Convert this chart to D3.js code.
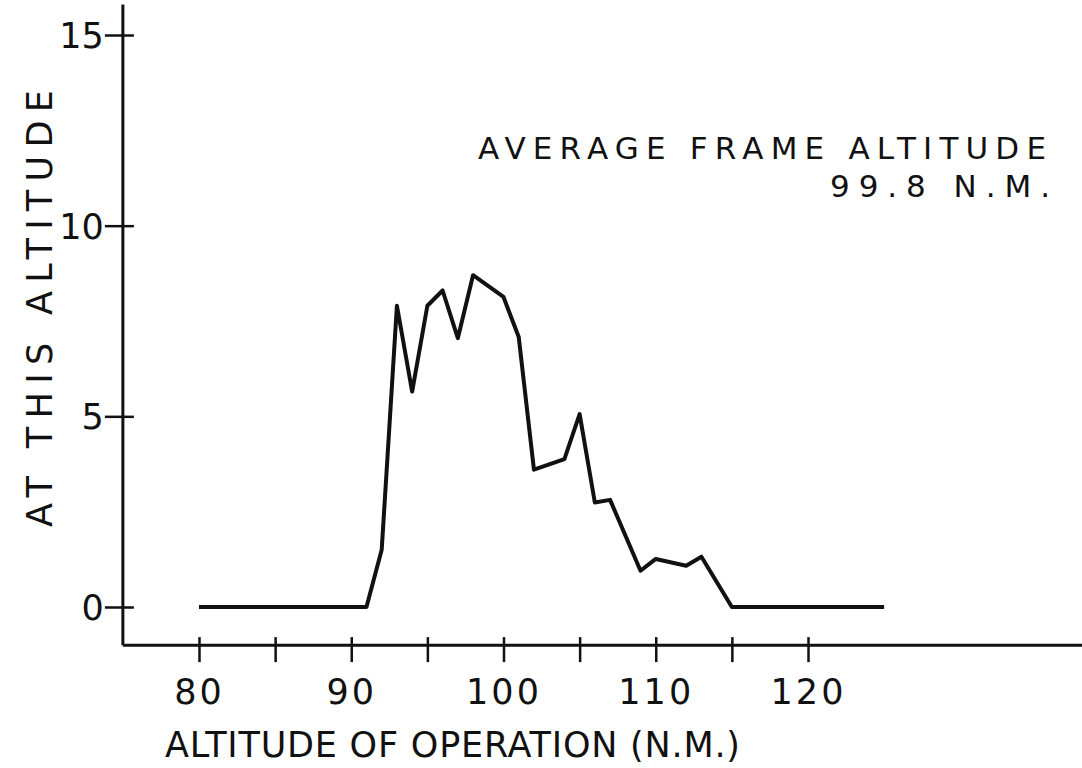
<!DOCTYPE html>
<meta charset="utf-8">
<script src="https://d3js.org/d3.v7.min.js"></script>
<style>
  body { margin: 0; background: #fff; }
  text { font-family: "DejaVu Sans", sans-serif; fill: #111; }
</style>
<div id="chart"></div>
<script>
  var altitudes = [80, 91, 92, 93, 94, 95, 96, 97, 98, 100, 101, 102, 104, 105, 106, 107, 109, 110, 112, 113, 115, 125];
  var values    = [0, 0, 1.5, 7.9, 5.65, 7.9, 8.3, 7.05, 8.7, 8.13, 7.08, 3.6, 3.88, 5.06, 2.74, 2.81, 0.95, 1.26, 1.08, 1.32, 0, 0];
  var xTicks = [80, 85, 90, 95, 100, 105, 110, 115, 120];
  var xTickLabels = [80, 90, 100, 110, 120];
  var yTicks = [0, 5, 10, 15];

  var W = 1082, H = 768;
  var svg = d3.select("#chart").append("svg")
      .attr("width", W).attr("height", H);

  var x = d3.scaleLinear().domain([80, 120]).range([199, 808]);
  var y = d3.scaleLinear().domain([0, 15]).range([607, 35]);

  var axisY = y(-1);      // x axis sits one unit below zero
  var axisX = x(75);      // y axis sits five units left of 80

  // axis lines
  svg.append("line")
    .attr("x1", axisX).attr("x2", axisX)
    .attr("y1", axisY).attr("y2", y(15.8))
    .attr("stroke", "#111").attr("stroke-width", 3);
  svg.append("line")
    .attr("x1", axisX).attr("x2", W)
    .attr("y1", axisY).attr("y2", axisY)
    .attr("stroke", "#111").attr("stroke-width", 3);

  // y ticks
  var gy = svg.append("g").attr("transform", "translate(" + axisX + ",0)")
    .call(d3.axisLeft(y).tickValues(yTicks).tickSize(0).tickPadding(0).tickFormat(""));
  gy.select(".domain").remove();
  gy.selectAll(".tick line").attr("x1", -18).attr("x2", 11)
    .attr("stroke", "#111").attr("stroke-width", 2.5);
  gy.selectAll(".tick").append("text")
    .attr("x", -19).attr("dy", "0.36em")
    .attr("text-anchor", "end")
    .style("font-size", "35px")
    .text(function(d) { return d; });

  // x ticks
  var gx = svg.append("g").attr("transform", "translate(0," + axisY + ")")
    .call(d3.axisBottom(x).tickValues(xTicks).tickSize(0).tickFormat(""));
  gx.select(".domain").remove();
  gx.selectAll(".tick line").attr("y1", -8).attr("y2", 17)
    .attr("stroke", "#111").attr("stroke-width", 2.5);
  gx.selectAll(".tick").filter(function(d) { return xTickLabels.indexOf(d) >= 0; })
    .append("text")
    .attr("y", 59)
    .attr("text-anchor", "middle")
    .style("font-size", "35px")
    .style("letter-spacing", "3px")
    .text(function(d) { return d; });

  // data line
  var line = d3.line()
    .x(function(d, i) { return x(altitudes[i]); })
    .y(function(d) { return y(d); });
  svg.append("path")
    .datum(values)
    .attr("d", line)
    .attr("fill", "none")
    .attr("stroke", "#111")
    .attr("stroke-width", 4)
    .attr("stroke-linejoin", "round");

  // axis titles
  svg.append("text")
    .attr("x", 165).attr("y", 757)
    .attr("textLength", 575).attr("lengthAdjust", "spacing")
    .style("font-size", "35px")
    .text("ALTITUDE  OF OPERATION  (N.M.)");

  svg.append("text")
    .attr("transform", "translate(52,527) rotate(-90)")
    .attr("textLength", 437).attr("lengthAdjust", "spacing")
    .style("font-size", "35px")
    .text("AT THIS ALTITUDE");

  // annotation
  svg.append("text")
    .attr("x", 478).attr("y", 159)
    .attr("textLength", 568).attr("lengthAdjust", "spacing")
    .style("font-size", "31px")
    .text("AVERAGE FRAME ALTITUDE");
  svg.append("text")
    .attr("x", 830).attr("y", 197)
    .attr("textLength", 220).attr("lengthAdjust", "spacing")
    .style("font-size", "31px")
    .text("99.8  N.M.");
</script>
